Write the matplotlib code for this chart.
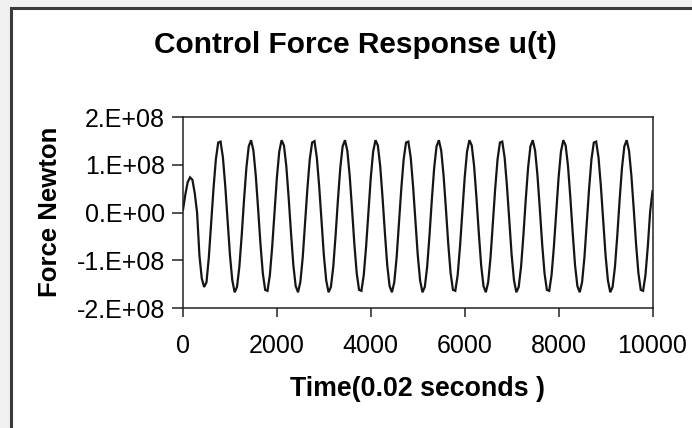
import numpy as np
import matplotlib
matplotlib.use("Agg")
import matplotlib.pyplot as plt
from matplotlib.patches import Rectangle

# ---- data (force in millions of Newton, sampled every 50 time steps) ----
time_steps = np.arange(0, 10001, 50)

force_start = [6, 38, 64, 74, 69, 41, 0, -90, -138, -156]

force_block1 = [-146, -94, -23, 51, 112, 147, 149, 116, 56, -17,
                -89, -142, -167, -156, -114, -48, 27, 94, 139, 152,
                130, 78, 8, -66, -127, -162, -164, -131, -71, 2,
                74, 128, 152, 141, 98, 32, -42, -110, -154, -167]
force_block2 = [-145, -94, -23, 51, 112, 147, 150, 116, 56, -17,
                -89, -142, -167, -156, -114, -48, 27, 94, 139, 152,
                130, 78, 8, -66, -127, -162, -164, -131, -71, 2,
                74, 128, 152, 141, 98, 32, -42, -110, -154, -167]
force_block3 = [-146, -94, -23, 51, 112, 147, 149, 116, 56, -17,
                -89, -142, -167, -156, -114, -48, 27, 94, 139, 152,
                130, 78, 8, -66, -127, -162, -164, -131, -71, 2,
                74, 128, 152, 141, 98, 32, -42, -110, -154, -167]
force_block4 = [-146, -94, -23, 51, 112, 147, 149, 116, 56, -17,
                -89, -142, -167, -156, -114, -48, 27, 94, 139, 152,
                130, 78, 8, -66, -127, -162, -164, -131, -71, 2,
                74, 128, 152, 141, 98, 32, -42, -110, -154, -167]
force_end = [-146, -94, -23, 51, 112, 147, 149, 116, 56, -17,
             -89, -142, -167, -156, -114, -48, 27, 94, 139, 152,
             130, 78, 8, -66, -127, -162, -164, -131, -71, 2, 45]

force_millions = (force_start + force_block1 + force_block2 +
                  force_block3 + force_block4 + force_end)
force = np.array(force_millions, dtype=float) * 1e6

x_ticks = [0, 2000, 4000, 6000, 8000, 10000]
y_ticks = [-2e8, -1e8, 0, 1e8, 2e8]
y_tick_labels = ["-2.E+08", "-1.E+08", "0.E+00", "1.E+08", "2.E+08"]

title = "Control Force Response u(t)"
x_label = "Time(0.02 seconds )"
y_label = "Force Newton"

# ---- figure ----
plt.rcParams['font.family'] = ['Liberation Sans', 'DejaVu Sans']
W, H = 692, 428
fig = plt.figure(figsize=(W / 100, H / 100), dpi=100)
fig.patch.set_facecolor('#f0f0f0')

frame = Rectangle((11.5 / W, -0.1), 1.2, 1 - 8.5 / H + 0.1,
                  transform=fig.transFigure, facecolor='white',
                  edgecolor='#3a3a3a', linewidth=2.2, zorder=-10)
fig.add_artist(frame)

left, right = 183 / W, 652.5 / W
top, bottom = 1 - 117.3 / H, 1 - 308 / H
ax = fig.add_axes([left, bottom, right - left, top - bottom])
ax.set_zorder(1)
ax.set_facecolor('white')

ax.plot(time_steps, force, color='#151515', linewidth=1.6,
        solid_joinstyle='miter')

ax.set_xlim(0, 10000)
ax.set_ylim(-2e8, 2e8)
ax.set_xticks(x_ticks)
ax.set_xticklabels([str(v) for v in x_ticks])
ax.set_yticks(y_ticks)
ax.set_yticklabels(y_tick_labels)

for s in ax.spines.values():
    s.set_linewidth(1.1)
    s.set_color('#222222')

ax.tick_params(axis='x', direction='out', length=6.5, width=1.1,
               pad=12, labelsize=18, colors='#222222', labelcolor='black')
ax.tick_params(axis='y', direction='out', length=8, width=1.1,
               pad=5, labelsize=18, colors='#222222', labelcolor='black')

fig.text(355 / W, 1 - 45 / H, title, ha='center', va='center',
         fontsize=21.5, fontweight='bold', zorder=2)
fig.text(418 / W, 1 - 389 / H, x_label, ha='center', va='center',
         fontsize=19.3, fontweight='bold', zorder=2)
fig.text(50 / W, 1 - 212 / H, y_label, ha='center', va='center',
         rotation=90, fontsize=18.5, fontweight='bold', zorder=2)

fig.savefig('out.png', dpi=100, facecolor=fig.get_facecolor())
